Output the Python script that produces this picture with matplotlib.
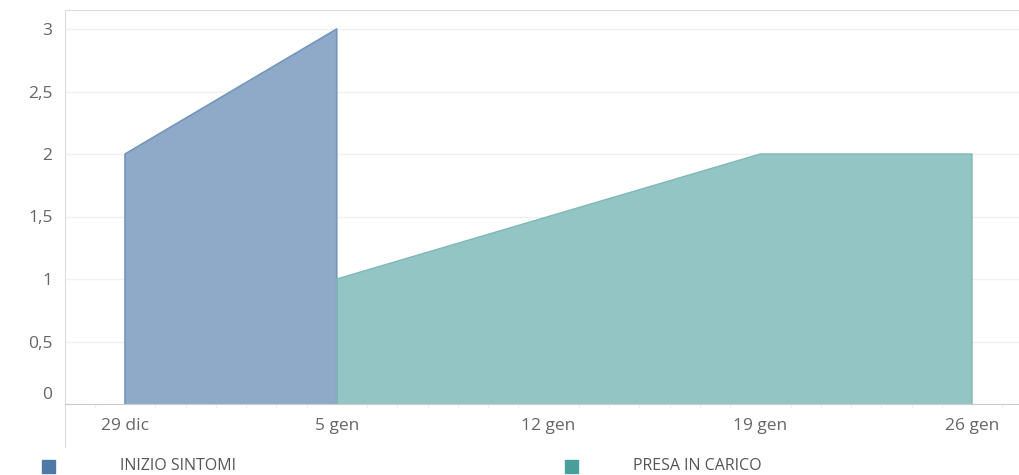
import pandas as pd
import numpy as np
import matplotlib
matplotlib.use('Agg')
import matplotlib.pyplot as plt
import matplotlib.dates as mdates
import matplotlib.transforms as mtransforms
from matplotlib.ticker import FuncFormatter, FixedLocator

plt.rcParams['font.family'] = ['Open Sans', 'DejaVu Sans']

# data
sintomi_dates = ['2019-12-29', '2020-01-05']
sintomi_values = [2, 3]
carico_dates = ['2020-01-05', '2020-01-12', '2020-01-19', '2020-01-26']
carico_values = [1, 1.5, 2, 2]
series_names = ['INIZIO SINTOMI', 'PRESA IN CARICO']
tick_dates = ['2019-12-29', '2020-01-05', '2020-01-12', '2020-01-19', '2020-01-26']
y_ticks = [0, 0.5, 1, 1.5, 2, 2.5, 3]

MESI = {12: 'dic', 1: 'gen'}

blue_fill = '#8eaac8'
blue_edge = '#7396bb'
teal_fill = '#93c5c5'
teal_edge = '#7fb8b8'
blue_key = '#4e79a7'
teal_key = '#499e9b'
text_col = '#666666'

fig = plt.figure(figsize=(10.19, 4.75), dpi=100)
ax = fig.add_axes([65 / 1019, (475 - 404) / 475, (1019 - 65) / 1019, (404 - 10) / 475])

xs1 = mdates.date2num(pd.to_datetime(sintomi_dates))
xs2 = mdates.date2num(pd.to_datetime(carico_dates))

ax.fill_between(xs1, 0, sintomi_values, color=blue_fill, edgecolor='none', zorder=2)
ax.plot(np.r_[xs1[0], xs1, xs1[-1]], np.r_[0, sintomi_values, 0], color=blue_edge, lw=1.2, zorder=3)
ax.fill_between(xs2, 0, carico_values, color=teal_fill, edgecolor='none', zorder=2)
ax.plot(np.r_[xs2[0], xs2, xs2[-1]], np.r_[0, carico_values, 0], color=teal_edge, lw=1.0, zorder=3)

day_px = (972 - 125) / 28.0
x0 = mdates.date2num(pd.Timestamp('2019-12-29')) - (125 - 65) / day_px
x1 = mdates.date2num(pd.Timestamp('2020-01-26')) + (1019 - 972) / day_px
ax.set_xlim(x0, x1)
ax.set_ylim(0, (404 - 10) / 125)

ticks = mdates.date2num(pd.to_datetime(tick_dates))
ax.xaxis.set_major_locator(FixedLocator(ticks))
ax.xaxis.set_major_formatter(FuncFormatter(
    lambda v, p: '%d %s' % (mdates.num2date(v).day, MESI[mdates.num2date(v).month])))
ax.xaxis.set_minor_locator(mdates.DayLocator())
ax.tick_params(axis='x', which='major', length=0, pad=10, labelsize=12.5, labelcolor=text_col)
ax.tick_params(axis='x', which='minor', length=3, color='#f0f0f0', width=0.8)

ax.set_yticks(y_ticks)
ax.yaxis.set_major_formatter(FuncFormatter(lambda v, p: ('%g' % v).replace('.', ',')))
ax.tick_params(axis='y', length=0, pad=9, labelsize=12.5, labelcolor=text_col)
# tableau nudges the zero label up
zero_lab = ax.get_yticklabels()[0]
zero_lab.set_transform(zero_lab.get_transform() + mtransforms.ScaledTranslation(0, 11 / 100, fig.dpi_scale_trans))

ax.grid(axis='y', color='#f0f0f0', lw=1, zorder=0)
ax.set_axisbelow(True)

ax.spines['right'].set_visible(False)
ax.spines['top'].set_color('#dddddd')
ax.spines['bottom'].set_color('#cccccc')
ax.spines['left'].set_color('#dddddd')
ax.spines['left'].set_bounds(ax.get_ylim()[0] - 43 / 125, ax.get_ylim()[1])
ax.spines['left'].set_clip_on(False)

# legend row at the bottom
fig.patches.append(plt.Rectangle((42 / 1019, 2 / 475), 13 / 1019, 13 / 475, transform=fig.transFigure,
                                 color=blue_key, figure=fig))
fig.patches.append(plt.Rectangle((565 / 1019, 2 / 475), 13 / 1019, 13 / 475, transform=fig.transFigure,
                                 color=teal_key, figure=fig))
fig.text(120 / 1019, 9 / 475, series_names[0], fontsize=11.5, color='#555555', va='center', ha='left')
fig.text(633 / 1019, 9 / 475, series_names[1], fontsize=11.5, color='#555555', va='center', ha='left')

fig.savefig('out.png', dpi=100)
